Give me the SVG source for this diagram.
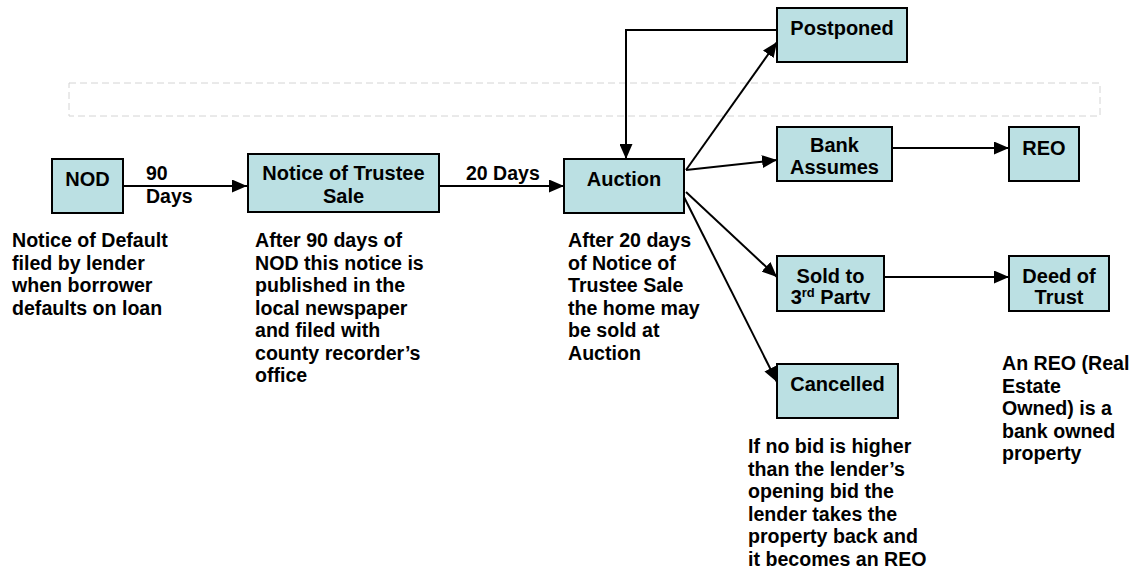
<svg xmlns="http://www.w3.org/2000/svg" width="1136" height="575" viewBox="0 0 1136 575">
<style>
.box{fill:#BBE0E3;stroke:#000;stroke-width:2}
.lbl{font-family:"Liberation Sans",Arial,sans-serif;font-weight:bold;font-size:20px;fill:#000;text-anchor:middle}
.elbl{font-family:"Liberation Sans",Arial,sans-serif;font-weight:bold;font-size:19.5px;fill:#000}
.desc{font-family:"Liberation Sans",Arial,sans-serif;font-weight:bold;font-size:19.6px;fill:#000}
.conn{fill:none;stroke:#000;stroke-width:2;marker-end:url(#arr)}
</style>
<defs>
<marker id="arr" markerUnits="userSpaceOnUse" markerWidth="15" markerHeight="13" refX="15" refY="6.5" orient="auto">
<path d="M0,0 L15,6.5 L0,13 z" fill="#000"/>
</marker>
<clipPath id="clipBank"><rect x="777" y="127" width="115" height="47"/></clipPath>
<clipPath id="clipSold"><rect x="777" y="256" width="107" height="48"/></clipPath>
</defs>
<rect x="69" y="83" width="1031" height="33" fill="none" stroke="#d4d4d4" stroke-width="1" stroke-dasharray="7 4"/>
<g id="connectors">
<line class="conn" x1="123" y1="186" x2="247" y2="186"/>
<line class="conn" x1="439" y1="186" x2="564" y2="186"/>
<line class="conn" x1="686" y1="170" x2="777" y2="42"/>
<path class="conn" d="M777,30 H626 V159"/>
<line class="conn" x1="686" y1="170" x2="777" y2="160"/>
<line class="conn" x1="686" y1="192" x2="777" y2="277"/>
<line class="conn" x1="684" y1="197" x2="777" y2="382"/>
<line class="conn" x1="892" y1="148" x2="1009" y2="148"/>
<line class="conn" x1="884" y1="277" x2="1009" y2="277"/>
<text class="elbl" x="146" y="180">90</text>
<text class="elbl" x="146" y="203">Days</text>
<text class="elbl" x="466" y="180">20 Days</text>
</g>
<g id="nod">
<rect class="box" x="52" y="159" width="71" height="54"/>
<text class="lbl" x="87.5" y="186">NOD</text>
<text class="desc" x="12" y="247">Notice of Default</text>
<text class="desc" x="12" y="269.5">filed by lender</text>
<text class="desc" x="12" y="292">when borrower</text>
<text class="desc" x="12" y="314.5">defaults on loan</text>
</g>
<g id="nts">
<rect class="box" x="248" y="154" width="191" height="58"/>
<text class="lbl" x="343.5" y="180">Notice of Trustee</text>
<text class="lbl" x="343.5" y="203">Sale</text>
<text class="desc" x="255" y="247">After 90 days of</text>
<text class="desc" x="255" y="269.5">NOD this notice is</text>
<text class="desc" x="255" y="292">published in the</text>
<text class="desc" x="255" y="314.5">local newspaper</text>
<text class="desc" x="255" y="337">and filed with</text>
<text class="desc" x="255" y="359.5">county recorder’s</text>
<text class="desc" x="255" y="382">office</text>
</g>
<g id="auction">
<rect class="box" x="564" y="159" width="120" height="54"/>
<text class="lbl" x="624" y="186">Auction</text>
<text class="desc" x="568" y="247">After 20 days</text>
<text class="desc" x="568" y="269.5">of Notice of</text>
<text class="desc" x="568" y="292">Trustee Sale</text>
<text class="desc" x="568" y="314.5">the home may</text>
<text class="desc" x="568" y="337">be sold at</text>
<text class="desc" x="568" y="359.5">Auction</text>
</g>
<g id="postponed">
<rect class="box" x="777" y="8" width="130" height="54"/>
<text class="lbl" x="842" y="35">Postponed</text>
</g>
<g id="bank">
<rect class="box" x="777" y="127" width="115" height="54"/>
<g clip-path="url(#clipBank)">
<text class="lbl" x="834.5" y="152">Bank</text>
<text class="lbl" x="834.5" y="174">Assumes</text>
</g>
</g>
<g id="reo">
<rect class="box" x="1009" y="127" width="70" height="54"/>
<text class="lbl" x="1044" y="155">REO</text>
</g>
<g id="sold">
<rect class="box" x="777" y="256" width="107" height="55"/>
<g clip-path="url(#clipSold)">
<text class="lbl" x="830.5" y="282.5">Sold to</text>
<text class="lbl" x="830.5" y="304">3<tspan font-size="13" dy="-7">rd</tspan><tspan dy="7"> Party</tspan></text>
</g>
</g>
<g id="deed">
<rect class="box" x="1009" y="256" width="100" height="55"/>
<text class="lbl" x="1059" y="282.5">Deed of</text>
<text class="lbl" x="1059" y="304">Trust</text>
<text class="desc" x="1002" y="370">An REO (Real</text>
<text class="desc" x="1002" y="392.5">Estate</text>
<text class="desc" x="1002" y="415">Owned) is a</text>
<text class="desc" x="1002" y="437.5">bank owned</text>
<text class="desc" x="1002" y="460">property</text>
</g>
<g id="cancelled">
<rect class="box" x="777" y="364" width="121" height="54"/>
<text class="lbl" x="837.5" y="391">Cancelled</text>
<text class="desc" x="748" y="453">If no bid is higher</text>
<text class="desc" x="748" y="475.5">than the lender’s</text>
<text class="desc" x="748" y="498">opening bid the</text>
<text class="desc" x="748" y="520.5">lender takes the</text>
<text class="desc" x="748" y="543">property back and</text>
<text class="desc" x="748" y="565.5">it becomes an REO</text>
</g>
</svg>
